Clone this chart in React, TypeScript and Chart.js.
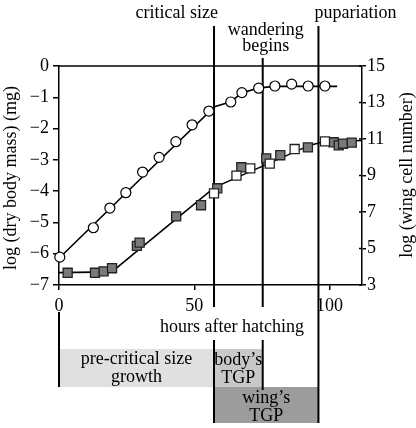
import React, { useEffect, useRef } from "react";
import { Chart, registerables } from "chart.js";

Chart.register(...registerables);

// ---------- data ----------
const xTickValues = [0, 50, 100];
const massTickValues = [-7, -6, -5, -4, -3, -2, -1, 0];
const cellTickValues = [3, 5, 7, 9, 11, 13, 15];

const massHours = [0.3, 12.7, 18.8, 24.7, 30.9, 37.0, 43.2, 49.2, 55.4, 63.5, 67.6, 73.8, 79.8, 86.0, 92.1, 98.3];
const massLog = [-6.11, -5.17, -4.54, -4.05, -3.39, -2.92, -2.42, -1.88, -1.44, -1.15, -0.85, -0.71, -0.64, -0.58, -0.64, -0.64];

const massFitHours = [0.2, 57.5, 63.5, 67.6, 73.8, 80, 102.8];
const massFitLog = [-6.13, -1.3, -1.14, -0.86, -0.7, -0.65, -0.65];

const wingGrayHours = [3.2, 13.3, 16.5, 19.6, 28.8, 29.8, 43.3, 52.5, 58.5, 67.4, 76.6, 81.8, 92.0, 101.5, 103.4, 105.0, 108.2];
const wingGrayLog = [3.67, 3.67, 3.75, 3.92, 5.14, 5.32, 6.76, 7.37, 8.3, 9.45, 9.94, 10.11, 10.54, 10.82, 10.65, 10.74, 10.8];

const wingWhiteHours = [57.3, 65.6, 70.7, 77.9, 87.1, 98.3];
const wingWhiteLog = [8.02, 8.99, 9.39, 9.65, 10.45, 10.87];

const wingFitHours = [0, 19.5, 57.5, 92.6, 98, 112];
const wingFitLog = [3.68, 3.72, 8.35, 10.65, 10.86, 10.92];

const eventLabels = [["critical size"], ["wandering", "begins"], ["pupariation"]];
const eventHours = [57.3, 75.3, 95.9];

const phaseLabels = [["pre-critical size", "growth"], ["body\u2019s", "TGP"], ["wing\u2019s", "TGP"]];
const phaseStart = [0, 57.3, 57.3];
const phaseEnd = [57.3, 75.3, 95.9];

const xTitle = "hours after hatching";
const massTitle = "log (dry body mass) (mg)";
const cellTitle = "log (wing cell number)";

// ---------- styles / layout ----------
const FONT_FAMILY = "'Liberation Serif', 'DejaVu Serif', serif";
const FONT_SIZE = 18;
const phaseColors = ["#e0e0e0", "#c8c8c8", "#9c9c9c"];
const phaseRows = [
  [349, 387],
  [349, 387],
  [387, 423],
];
const phaseTextOffset = [0, 1.5, 2.5];
const eventLineSegments = [
  [[26, 307], [340, 423]],
  [[58, 307], [340, 390]],
  [[26, 423]],
];
const eventLabelLayout = [
  { align: "right", dx: 4, ys: [13] },
  { align: "center", dx: 3, ys: [30, 46] },
  { align: "left", dx: -4, ys: [13] },
];

const pts = (xs: number[], ys: number[]) => xs.map((x, i) => ({ x, y: ys[i] }));
const minus = (v: any) => String(v).replace("-", "\u2212");

const overlayPlugin = {
  id: "overlay",
  beforeDatasetsDraw(chart: any) {
    const ctx = chart.ctx;
    const xs = chart.scales.x;
    const area = chart.chartArea;
    const px = (h: number) => xs.getPixelForValue(h);
    ctx.save();
    // phase bars
    phaseStart.forEach((s, i) => {
      ctx.fillStyle = phaseColors[i];
      const [t, b] = phaseRows[i];
      ctx.fillRect(px(s), t, px(phaseEnd[i]) - px(s), b - t);
    });
    ctx.strokeStyle = "#000";
    ctx.lineWidth = 2;
    // left edge of pre-critical bar
    ctx.beginPath();
    ctx.moveTo(px(phaseStart[0]), 312);
    ctx.lineTo(px(phaseStart[0]), phaseRows[0][1]);
    ctx.stroke();
    // event lines
    eventHours.forEach((h, i) => {
      const x = px(h);
      eventLineSegments[i].forEach(([a, b]) => {
        ctx.beginPath();
        ctx.moveTo(x, a);
        ctx.lineTo(x, b);
        ctx.stroke();
      });
    });
    // top border
    ctx.lineWidth = 1.5;
    ctx.beginPath();
    ctx.moveTo(area.left, area.top);
    ctx.lineTo(area.right, area.top);
    ctx.stroke();
    // inner ticks on right axis
    const y2 = chart.scales.y2;
    cellTickValues.forEach((v) => {
      const y = y2.getPixelForValue(v);
      ctx.beginPath();
      ctx.moveTo(area.right - 3, y);
      ctx.lineTo(area.right, y);
      ctx.stroke();
    });
    // texts
    ctx.fillStyle = "#000";
    ctx.font = `${FONT_SIZE}px ${FONT_FAMILY}`;
    ctx.textBaseline = "middle";
    eventHours.forEach((h, i) => {
      const L = eventLabelLayout[i];
      ctx.textAlign = L.align;
      eventLabels[i].forEach((line, j) => ctx.fillText(line, px(h) + L.dx, L.ys[j]));
    });
    ctx.textAlign = "center";
    phaseLabels.forEach((lines, i) => {
      const cx = (px(phaseStart[i]) + px(phaseEnd[i])) / 2;
      const cy = (phaseRows[i][0] + phaseRows[i][1]) / 2 + phaseTextOffset[i];
      lines.forEach((line, j) => ctx.fillText(line, cx, cy + (j - (lines.length - 1) / 2) * 18));
    });
    ctx.fillText(xTitle, 232, 327);
    // rotated axis titles
    const rot = (t: string, x: number, y: number) => {
      ctx.save();
      ctx.translate(x, y);
      ctx.rotate(-Math.PI / 2);
      ctx.fillText(t, 0, 0);
      ctx.restore();
    };
    rot(massTitle, 11, 178);
    rot(cellTitle, 407, 175);
    ctx.restore();
  },
};

export default function App() {
  const ref = useRef<HTMLCanvasElement>(null);
  useEffect(() => {
    if (!ref.current) return;
    const font = { family: FONT_FAMILY, size: FONT_SIZE };
    const chart = new Chart(ref.current, {
      type: "scatter",
      data: {
        datasets: [
          {
            type: "line",
            data: pts(massFitHours, massFitLog),
            yAxisID: "y",
            borderColor: "#000",
            borderWidth: 1.6,
            pointRadius: 0,
            fill: false,
            order: 3,
          },
          {
            type: "line",
            data: pts(wingFitHours, wingFitLog),
            yAxisID: "y2",
            borderColor: "#000",
            borderWidth: 1.6,
            pointRadius: 0,
            fill: false,
            order: 3,
          },
          {
            data: pts(massHours, massLog),
            yAxisID: "y",
            pointStyle: "circle",
            pointRadius: 5,
            backgroundColor: "#fff",
            borderColor: "#000",
            borderWidth: 1.2,
            clip: false,
            order: 1,
          },
          {
            data: pts(wingGrayHours, wingGrayLog),
            yAxisID: "y2",
            pointStyle: "rect",
            pointRadius: 6.4,
            backgroundColor: "#7a7a7a",
            borderColor: "#222",
            borderWidth: 1.3,
            clip: false,
            order: 2,
          },
          {
            data: pts(wingWhiteHours, wingWhiteLog),
            yAxisID: "y2",
            pointStyle: "rect",
            pointRadius: 6.4,
            backgroundColor: "#fff",
            borderColor: "#222",
            borderWidth: 1.3,
            clip: false,
            order: 1,
          },
        ] as any,
      },
      options: {
        responsive: false,
        animation: false,
        devicePixelRatio: 1,
        layout: { padding: { top: 66, left: 0, right: 0, bottom: 0 } },
        plugins: { legend: { display: false }, tooltip: { enabled: false } },
        scales: {
          x: {
            type: "linear",
            position: "bottom",
            min: 0,
            max: 112,
            afterBuildTicks: (s: any) => {
              s.ticks = xTickValues.map((v) => ({ value: v }));
            },
            afterFit: (s: any) => {
              s.height = 143;
            },
            grid: { drawOnChartArea: false, tickLength: 5, color: "#000", lineWidth: 1.5 },
            border: { color: "#000", width: 1.5 },
            ticks: { font, color: "#000", padding: 5, maxRotation: 0 },
          },
          y: {
            type: "linear",
            position: "left",
            min: -7,
            max: 0,
            afterBuildTicks: (s: any) => {
              s.ticks = massTickValues.map((v) => ({ value: v }));
            },
            afterFit: (s: any) => {
              s.width = 59;
            },
            grid: { drawOnChartArea: false, tickLength: 6, color: "#000", lineWidth: 1.5 },
            border: { color: "#000", width: 1.5 },
            ticks: { font, color: "#000", padding: 4, callback: (v: any) => minus(v) },
          },
          y2: {
            type: "linear",
            position: "right",
            min: 3,
            max: 15,
            afterBuildTicks: (s: any) => {
              s.ticks = cellTickValues.map((v) => ({ value: v }));
            },
            afterFit: (s: any) => {
              s.width = 54;
            },
            grid: { drawOnChartArea: false, tickLength: 4, color: "#000", lineWidth: 1.5 },
            border: { color: "#000", width: 1.5 },
            ticks: { font, color: "#000", padding: 1 },
          },
        },
      } as any,
      plugins: [overlayPlugin],
    });
    return () => chart.destroy();
  }, []);
  return (
    <div style={{ position: "absolute", left: 0, top: 0, width: 416, height: 428, background: "#fff" }}>
      <canvas ref={ref} width={416} height={428} style={{ display: "block" }} />
    </div>
  );
}
